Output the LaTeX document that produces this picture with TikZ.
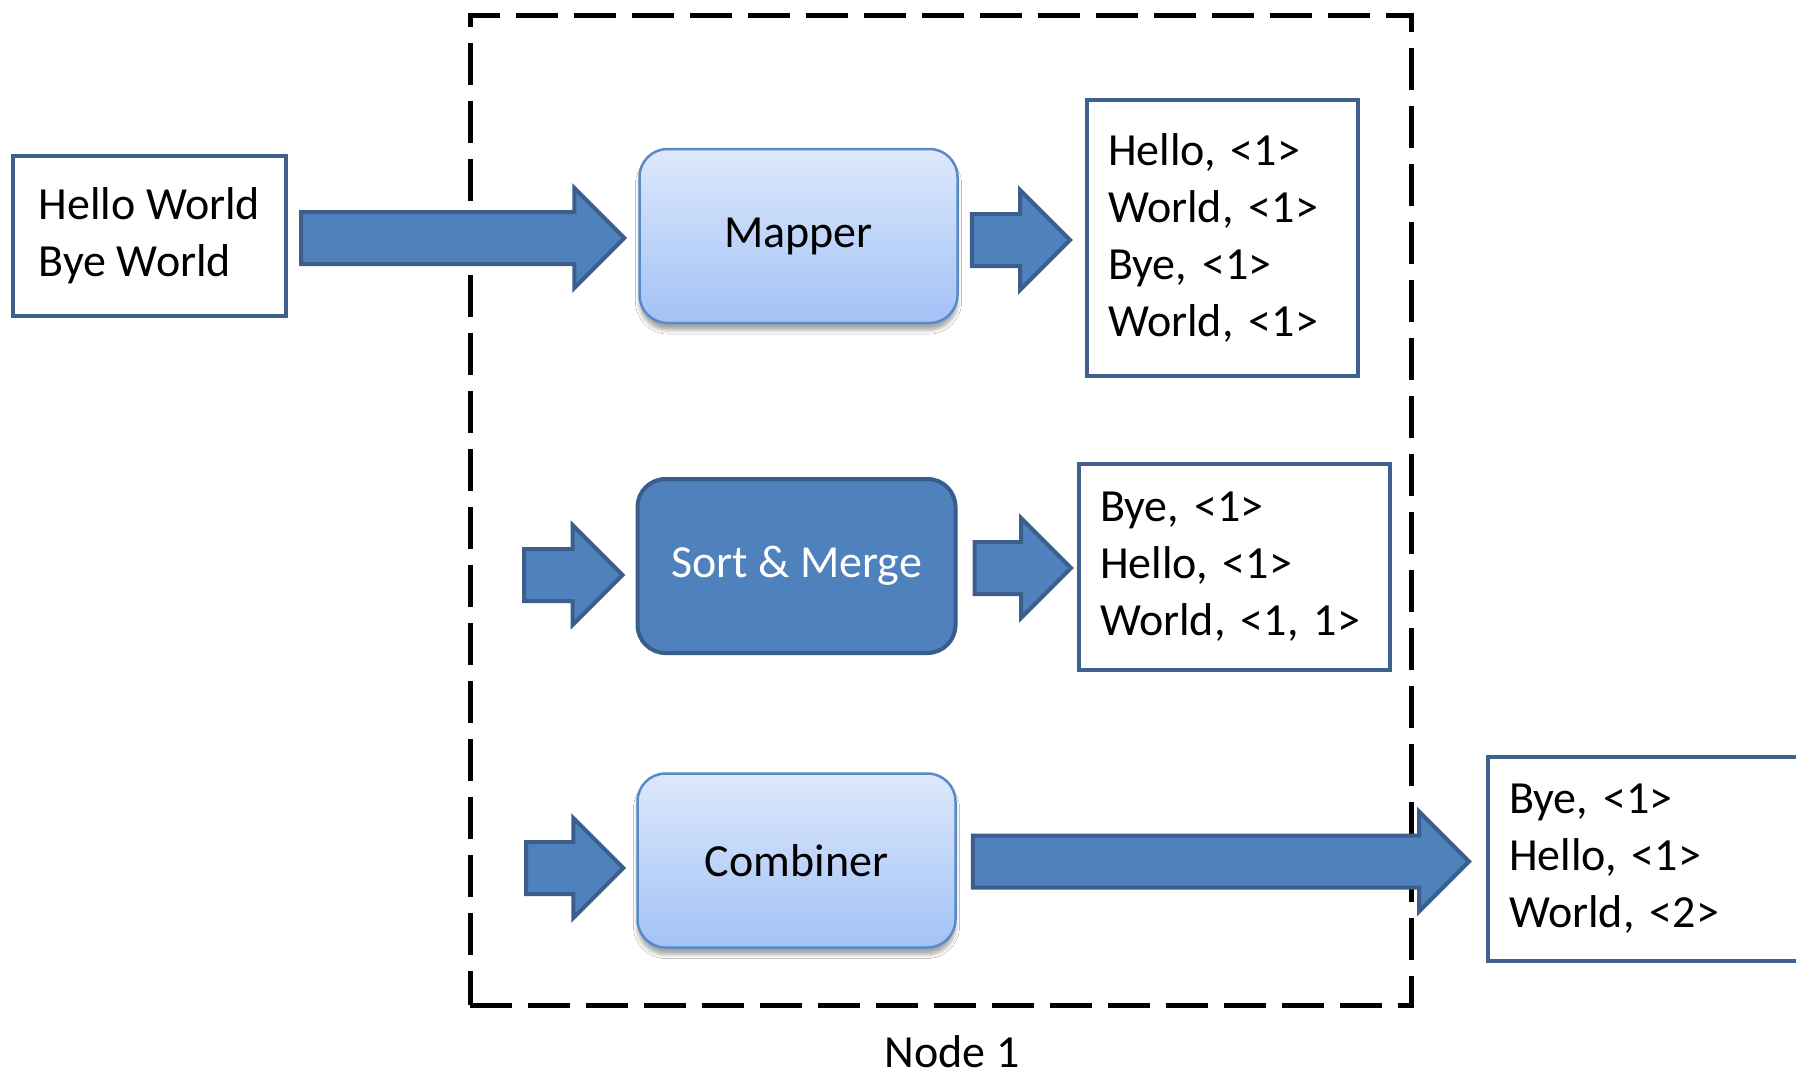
\documentclass[tikz,border=0pt]{standalone}
\usepackage{fontspec}
\setmainfont{Carlito}
\usetikzlibrary{calc,shadows,shadows.blur}

\definecolor{arrowfill}{HTML}{4F81BD}
\definecolor{arrowline}{HTML}{3B5E8C}
\definecolor{boxline}{HTML}{3E6190}
\definecolor{procline}{HTML}{5A8AC6}
\definecolor{proctop}{HTML}{DDE8FC}
\definecolor{procbot}{HTML}{A2C2F6}
\definecolor{darkproc}{HTML}{385D8A}

\tikzset{
  bigfont/.style={font=\fontsize{46}{57}\selectfont},
  textbox/.style={draw=boxline, line width=4pt, fill=white, rectangle,
    inner xsep=21pt, inner ysep=0pt, align=left, bigfont},
  procbox/.style={rectangle, rounded corners=28pt, minimum width=318pt, minimum height=174pt, bigfont},
  lightproc/.style={procbox, draw=procline, line width=2.5pt, top color=proctop, bottom color=procbot,
    blur shadow={shadow xshift=0pt, shadow yshift=-7pt, shadow blur radius=4pt, shadow opacity=35}},
  darkprocbox/.style={procbox, draw=darkproc, line width=4pt, fill=arrowfill, text=white},
  fatarrow/.style={fill=arrowfill, draw=arrowline, line width=4pt, line join=miter},
  frame/.style={draw=black, line width=5pt, dash pattern=on 42pt off 16pt, rectangle},
}

% block arrow from a start point (its tail) to the x of a tip point
\newcommand\blockarrow[2]{%
  \path[fatarrow] let \p1=(#1), \p2=(#2) in
    (\x1,\y1+26pt) -- (\x2-50pt,\y1+26pt) -- (\x2-50pt,\y1+50pt) -- (\x2,\y1)
    -- (\x2-50pt,\y1-50pt) -- (\x2-50pt,\y1-26pt) -- (\x1,\y1-26pt) -- cycle;}

\begin{document}
\begin{tikzpicture}[x=1pt,y=-1pt]
  \clip (0,0) rectangle (1796,1077);
  \fill[white] (0,0) rectangle (1796,1077);

  % the node boundary
  \node[frame, minimum width=941pt, minimum height=990pt] (node1) at (940.5,510) {};
  \node[anchor=base, bigfont, text depth=0pt, inner sep=0pt] (node1label) at (952,1067) {Node 1};

  % input and outputs
  \node[textbox, minimum width=273pt, minimum height=160pt, inner xsep=0pt]
    (input) at (149.5,236) {Hello World\\Bye World};
  \node[textbox, minimum height=276pt, text width=229pt]
    (out1) at (1222.5,238) {Hello, <1>\\World, <1>\\Bye, <1>\\World, <1>};
  \node[textbox, minimum height=206pt, text width=269pt]
    (out2) at (1234.5,567) {Bye, <1>\\Hello, <1>\\World, <1, 1>};
  \node[textbox, minimum height=204pt, text width=294pt]
    (out3) at (1656,858.5) {Bye, <1>\\Hello, <1>\\World, <2>};

  % processing stages
  \node[lightproc] (mapper) at (798.5,236) {Mapper};
  \node[darkprocbox] (sortmerge) at (796.5,566) {Sort \& Merge};
  \node[lightproc] (combiner) at (796.5,860.5) {Combiner};

  % free tails of the incoming arrows
  \coordinate (smin) at (524,575);
  \coordinate (cbin) at (526,868);

  % connectors
  \blockarrow{$(input.east)+(13,2)$}{$(mapper.west)+(-14,0)$}
  \blockarrow{$(mapper.east)+(13,4)$}{$(out1.west)+(-15,0)$}
  \blockarrow{smin}{$(sortmerge.west)+(-13,0)$}
  \blockarrow{$(sortmerge.east)+(17,2)$}{$(out2.west)+(-6,0)$}
  \blockarrow{cbin}{$(combiner.west)+(-13,0)$}
  \blockarrow{$(combiner.east)+(16,1)$}{$(out3.west)+(-17,0)$}
\end{tikzpicture}
\end{document}
